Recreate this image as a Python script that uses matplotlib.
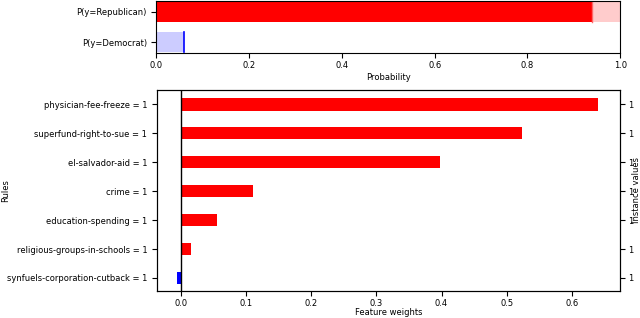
import matplotlib
matplotlib.use("Agg")
from matplotlib import pyplot as plt

# prediction probabilities
classes = ["P(y=Democrat)", "P(y=Republican)"]
p_low = [0.06, 0.939]
p_high = [0.06, 1.0]

# rules and feature weights (bottom to top)
rules = ["synfuels-corporation-cutback = 1",
         "religious-groups-in-schools = 1",
         "education-spending = 1",
         "crime = 1",
         "el-salvador-aid = 1",
         "superfund-right-to-sue = 1",
         "physician-fee-freeze = 1"]
weights = [-0.007, 0.015, 0.055, 0.110, 0.397, 0.523, 0.641]
instance_values = ["1", "1", "1", "1", "1", "1", "1"]

plt.rcParams['font.size'] = 6.0

fig = plt.figure(figsize=(6.4, 3.18), dpi=100)

# ---- probability axes ----
ax1 = fig.add_axes([0.2445, 0.833, 0.7245, 0.164])
# democrat
ax1.barh(0, p_low[0], height=0.68, color="#ccccff")
ax1.plot([p_low[0], p_low[0]], [-0.34, 0.34], color="blue", lw=1.2)
# republican
ax1.barh(1, p_low[1], height=0.68, color="red")
ax1.barh(1, p_high[1] - p_low[1], left=p_low[1], height=0.68, color="#ffcccc")
ax1.plot([p_low[1], p_low[1]], [0.66, 1.34], color="#ff6666", lw=1.0)
ax1.set_xlim(0, 1)
ax1.set_ylim(-0.36, 1.36)
ax1.set_yticks([0, 1])
ax1.set_yticklabels(classes)
ax1.set_xlabel("Probability", labelpad=2)
ax1.tick_params(axis='x', pad=2)

# ---- feature weights axes ----
ax2 = fig.add_axes([0.2453, 0.085, 0.7234, 0.632])
ypos = list(range(len(rules)))
colors = ["blue" if w < 0 else "red" for w in weights]
ax2.barh(ypos, weights, height=0.42, color=colors)
ax2.axvline(0, color="black", lw=1.0)
ax2.set_xlim(-0.037, 0.674)
ax2.set_ylim(-0.45, 6.5)
ax2.set_yticks(ypos)
ax2.set_yticklabels(rules)
ax2.set_ylabel("Rules", va="center")
ax2.yaxis.set_label_coords(-0.327, 0.5)
ax2.set_xlabel("Feature weights", labelpad=0)
ax2.tick_params(axis='x', pad=2.5)

ax3 = ax2.twinx()
ax3.set_ylim(ax2.get_ylim())
ax3.set_yticks(ypos)
ax3.set_yticklabels(instance_values)
ax3.tick_params(axis='y', pad=2)
ax3.set_ylabel("Instance values", va="center")
ax3.yaxis.set_label_coords(1.036, 0.5)

fig.savefig("out.png", dpi=100)
